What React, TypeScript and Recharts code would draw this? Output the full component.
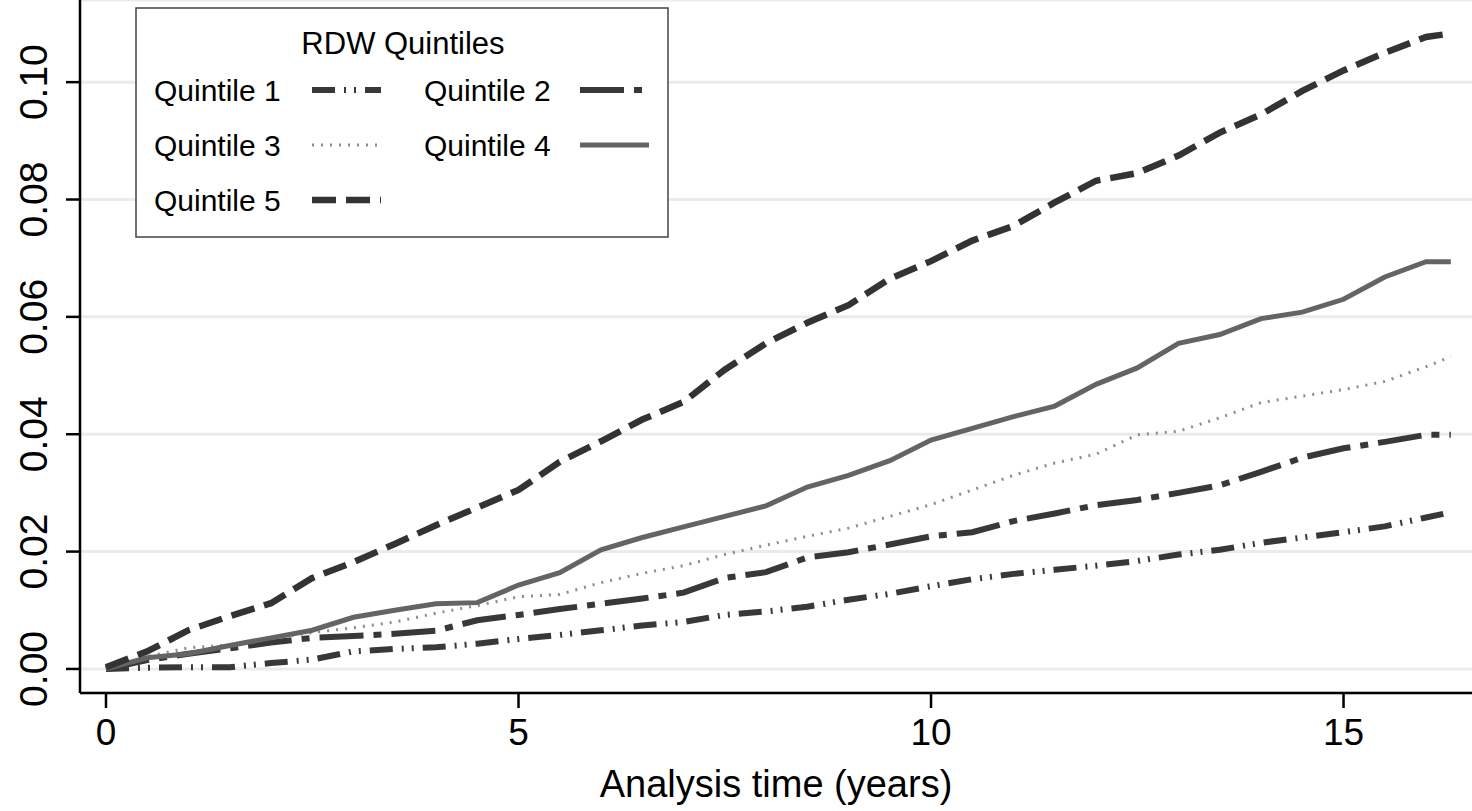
import { CartesianGrid, Line, LineChart, XAxis, YAxis } from 'recharts';

const FONT = '"Liberation Sans", Arial, Helvetica, sans-serif';

const times = [
  0, 0.5, 1, 1.5, 2, 2.5, 3, 3.5, 4, 4.5, 5, 5.5, 6, 6.5, 7, 7.5, 8, 8.5, 9, 9.5,
  10, 10.5, 11, 11.5, 12, 12.5, 13, 13.5, 14, 14.5, 15, 15.5, 16, 16.3
];

const quintile1 = [
  0, 0.0002, 0.0003, 0.0003, 0.001, 0.0016, 0.003, 0.0034, 0.0037, 0.0043, 0.0051,
  0.0058, 0.0066, 0.0074, 0.008, 0.0092, 0.0098, 0.0106, 0.0118, 0.0128, 0.0141,
  0.0153, 0.0162, 0.0169, 0.0176, 0.0184, 0.0195, 0.0203, 0.0215, 0.0224, 0.0233,
  0.0243, 0.0258, 0.0267
];
const quintile2 = [
  0, 0.0015, 0.0026, 0.0035, 0.0045, 0.0053, 0.0056, 0.006, 0.0065, 0.0083, 0.0092,
  0.0102, 0.0111, 0.012, 0.013, 0.0155, 0.0165, 0.019, 0.0199, 0.0212, 0.0226,
  0.0233, 0.0252, 0.0265, 0.0279, 0.0288, 0.03, 0.0313, 0.0336, 0.036, 0.0376,
  0.0387, 0.0399, 0.0399
];
const quintile3 = [
  0, 0.0021, 0.0036, 0.0041, 0.0052, 0.0062, 0.007, 0.008, 0.0095, 0.0108, 0.0123,
  0.0127, 0.0147, 0.0163, 0.0176, 0.0195, 0.0211, 0.0226, 0.024, 0.026, 0.028,
  0.0305, 0.033, 0.0351, 0.0366, 0.0399, 0.0405, 0.0428, 0.0454, 0.0465, 0.0476,
  0.049, 0.0515, 0.0532
];
const quintile4 = [
  0, 0.0019, 0.0026, 0.004, 0.0053, 0.0066, 0.0088, 0.01, 0.0111, 0.0113, 0.0143,
  0.0164, 0.0203, 0.0224, 0.0242, 0.026, 0.0278, 0.031, 0.033, 0.0355, 0.039,
  0.041, 0.043, 0.0448, 0.0485, 0.0513, 0.0555, 0.057, 0.0597, 0.0608, 0.063,
  0.0668, 0.0694, 0.0694
];
const quintile5 = [
  0.0003, 0.003, 0.0066, 0.009, 0.0112, 0.0155, 0.0182, 0.0213, 0.0245, 0.0275,
  0.0305, 0.0353, 0.0388, 0.0425, 0.0455, 0.051, 0.0555, 0.059, 0.062, 0.0665,
  0.0695, 0.073, 0.0755, 0.0795, 0.0832, 0.0845, 0.0875, 0.0914, 0.0945, 0.0985,
  0.102, 0.105, 0.1077, 0.1083
];

const xTicks = [0, 5, 10, 15];
const yTicks = [0, 0.02, 0.04, 0.06, 0.08, 0.1];

const series = [
  { key: 'q1', name: 'Quintile 1', color: '#383838', width: 6, dash: '23 9 2 8 2 9' },
  { key: 'q2', name: 'Quintile 2', color: '#383838', width: 6, dash: '44 10 8 10' },
  { key: 'q3', name: 'Quintile 3', color: '#8c8c8c', width: 3, dash: '2 7' },
  { key: 'q4', name: 'Quintile 4', color: '#646464', width: 5, dash: undefined },
  { key: 'q5', name: 'Quintile 5', color: '#333333', width: 6.5, dash: '24 10' }
];

const data = times.map((t, i) => ({
  t,
  q1: quintile1[i],
  q2: quintile2[i],
  q3: quintile3[i],
  q4: quintile4[i],
  q5: quintile5[i]
}));

function YTick({ x, y, payload }: any) {
  const bx = x - 17;
  return (
    <text
      x={bx}
      y={y}
      transform={`rotate(-90, ${bx}, ${y})`}
      textAnchor="middle"
      fontFamily={FONT}
      fontSize={39}
      fill="#000"
    >
      {Number(payload.value).toFixed(2)}
    </text>
  );
}

function XTick({ x, y, payload }: any) {
  return (
    <text x={x} y={y} dy={35} textAnchor="middle" fontFamily={FONT} fontSize={37} fill="#000">
      {payload.value}
    </text>
  );
}

function LegendBox() {
  const rows = [
    [series[0], series[1]],
    [series[2], series[3]],
    [series[4]]
  ];
  return (
    <svg
      width={534}
      height={231}
      style={{ position: 'absolute', left: 135, top: 7 }}
    >
      <rect x={1} y={1} width={532} height={229} fill="#fff" stroke="#444" strokeWidth={1.5} />
      <text x={268} y={47} textAnchor="middle" fontFamily={FONT} fontSize={31} fill="#000">
        RDW Quintiles
      </text>
      {rows.map((row, r) =>
        row.map((s, c) => {
          const cy = 83 + r * 55;
          const tx = c === 0 ? 19 : 289;
          const lx = c === 0 ? 177 : 445;
          return (
            <g key={s.key}>
              <text x={tx} y={cy + 11} fontFamily={FONT} fontSize={30} fill="#000">
                {s.name}
              </text>
              <line
                x1={lx}
                x2={lx + 69}
                y1={cy}
                y2={cy}
                stroke={s.color}
                strokeWidth={s.width}
                strokeDasharray={s.dash}
              />
            </g>
          );
        })
      )}
    </svg>
  );
}

export default function App() {
  return (
    <div style={{ position: 'relative', width: 1472, height: 811, background: '#fff' }}>
      <style>{'body{margin:0;background:#fff}'}</style>
      <LineChart
        width={1472}
        height={811}
        data={data}
        margin={{ top: 0, right: 0, bottom: 0, left: 0 }}
      >
        <CartesianGrid vertical={false} stroke="#ebebeb" strokeWidth={3} />
        <XAxis
          dataKey="t"
          type="number"
          domain={[-0.315, 16.557]}
          allowDataOverflow
          ticks={xTicks}
          height={118}
          tickSize={15}
          tickMargin={2}
          tick={<XTick />}
          axisLine={{ stroke: '#000', strokeWidth: 2.5 }}
          tickLine={{ stroke: '#000', strokeWidth: 2.5 }}
          label={{
            value: 'Analysis time (years)',
            position: 'insideBottom',
            offset: 14,
            fontSize: 38,
            fontFamily: FONT,
            fill: '#000'
          }}
        />
        <YAxis
          type="number"
          domain={[-0.0041, 0.114]}
          allowDataOverflow
          ticks={yTicks}
          width={80}
          tickSize={14}
          tickMargin={2}
          tick={<YTick />}
          axisLine={{ stroke: '#000', strokeWidth: 2.5 }}
          tickLine={{ stroke: '#000', strokeWidth: 2.5 }}
        />
        {series.map((s) => (
          <Line
            key={s.key}
            dataKey={s.key}
            name={s.name}
            type="linear"
            stroke={s.color}
            strokeWidth={s.width}
            strokeDasharray={s.dash}
            dot={false}
            activeDot={false}
            isAnimationActive={false}
          />
        ))}
      </LineChart>
      <LegendBox />
    </div>
  );
}
